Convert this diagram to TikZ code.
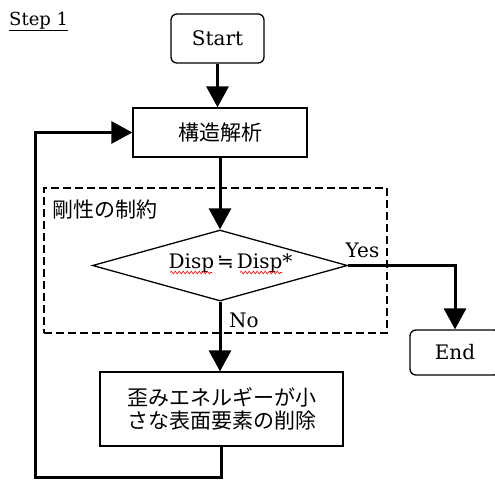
\documentclass[tikz,border=0pt]{standalone}
\usepackage{fontspec}
\setmainfont{DejaVu Serif}
\newfontfamily\cjk{Noto Sans CJK JP}
\newfontfamily\symfont{DejaVu Sans}
\usetikzlibrary{arrows.meta,shapes.geometric,decorations.pathmorphing,calc}
\begin{document}
\begin{tikzpicture}[x=1pt,y=-1pt,
  box/.style={draw,line width=1.3pt,inner sep=0pt},
  rbox/.style={box,rounded corners=6pt},
  flow/.style={line width=3pt,-{Triangle[width=22pt,length=21pt]}},
  lat/.style={font=\fontsize{20}{24}\selectfont,inner sep=0pt},
  jp/.style={font=\cjk\fontsize{21}{23.5}\selectfont},
  wavy/.style={red,line width=0.6pt,decorate,decoration={snake,amplitude=1.3pt,segment length=4pt}}]
\useasboundingbox (0,0) rectangle (495,482);
% title
\node[lat,font=\fontsize{18}{22}\selectfont,anchor=base west] (step) at (9,25) {\underline{Step 1}};
% boxes
\node[rbox,lat,minimum width=93pt,minimum height=49pt] (start) at (217.5,38.5) {Start};
\node[box,jp,minimum width=174pt,minimum height=49pt] (anal) at (220,132.5) {構造解析};
\node[draw,line width=1.3pt,dash pattern=on 8pt off 4pt,minimum width=343pt,minimum height=145pt,inner sep=0pt] (con) at (215.5,260.5) {};
\node[jp,inner sep=0pt] (contxt) at (105,210) {剛性の制約};
\node[draw,diamond,line width=1.3pt,minimum width=255pt,minimum height=71pt,aspect=3.6,inner sep=0pt] (dia) at (220,265.5) {};
\node[lat,anchor=base] (dtxt) at (230.5,268) {Disp\hspace{3pt}{\symfont ≒}\hspace{3pt}Disp*};
\draw[wavy] (170,272.5) -- (212,272.5);
\draw[wavy] (240,272.5) -- (282,272.5);
\node[rbox,lat,minimum width=90pt,minimum height=45pt] (end) at (455,352.5) {End};
\node[box,jp,align=center,minimum width=243pt,minimum height=74pt] (rem) at (221.5,409) {歪みエネルギーが小\\さな表面要素の削除};
% labels
\node[lat,anchor=base] (yes) at (362.5,257) {Yes};
\node[lat,anchor=base] (no) at (244,327) {No};
% connectors
\coordinate (loopc) at (35,477);
\draw[flow] (start.south) -- (start.south |- anal.north);
\draw[flow] (anal.south) -- (dia.north);
\draw[flow] (dia.south) -- (dia.south |- rem.north);
\draw[flow] (dia.east) -| (end.north);
\draw[flow] (rem.south) -- (rem.south |- loopc) -- (loopc) |- (anal.west);
\end{tikzpicture}
\end{document}
